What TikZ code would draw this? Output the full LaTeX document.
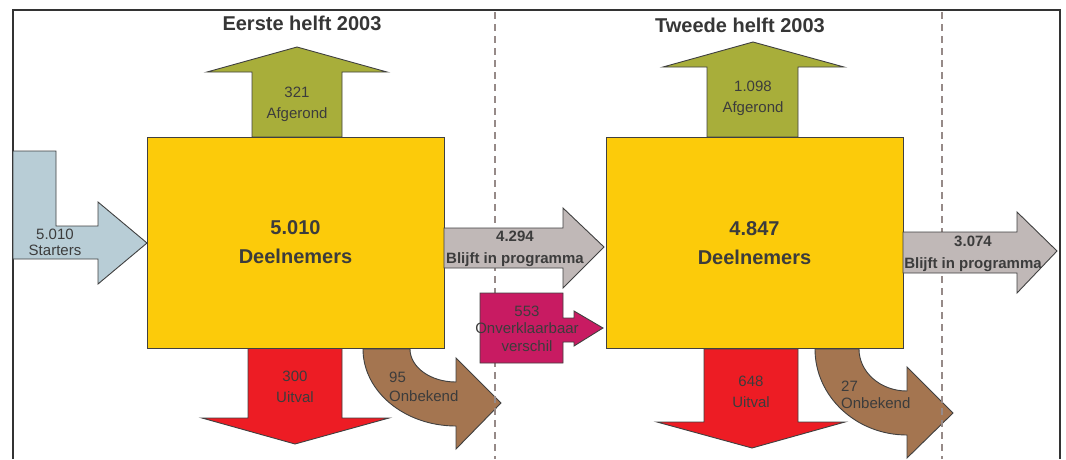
\documentclass[tikz,border=0pt]{standalone}
\usepackage{fontspec}
\setmainfont{Liberation Sans}
\usepackage{tikz}
\usetikzlibrary{positioning}

\definecolor{deelgeel}{RGB}{252,203,10}
\definecolor{olijf}{RGB}{168,174,58}
\definecolor{lichtblauw}{RGB}{184,205,214}
\definecolor{grijs}{RGB}{192,184,183}
\definecolor{paars}{RGB}{200,27,98}
\definecolor{rood}{RGB}{237,28,36}
\definecolor{bruin}{RGB}{164,117,80}
\definecolor{streep}{RGB}{150,138,136}
\definecolor{rand}{RGB}{64,64,64}
\definecolor{tekst}{RGB}{60,60,60}

\tikzset{
  deel/.style={draw=rand, line width=0.9pt, fill=deelgeel, minimum width=297pt, minimum height=211pt, inner sep=0pt, align=center, text=tekst, font=\fontsize{20}{29}\bfseries\selectfont},
  blok/.style={draw=rand, line width=0.9pt, line join=miter},
  lbl/.style={align=center, text=tekst, inner sep=0pt, font=\fontsize{15}{21}\selectfont},
  vetlbl/.style={lbl, font=\fontsize{15}{22}\bfseries\selectfont},
  titel/.style={inner sep=0pt, text=tekst!90!black, font=\fontsize{20}{24}\bfseries\selectfont},
  scheiding/.style={draw=streep, line width=2.2pt, dash pattern=on 7pt off 5pt},
}

\begin{document}
\begin{tikzpicture}[x=1pt, y=-1pt]
\useasboundingbox (0,0) rectangle (1066,459);
% kader
\draw[rand!80!black, line width=2pt] (13,459) -- (13,10) -- (1060,10) -- (1060,459);
\node[titel] (t1) at (302,23) {Eerste helft 2003};
\node[titel] (t2) at (740,25) {Tweede helft 2003};

% eerste helft
\filldraw[blok, fill=lichtblauw] (13,151) -- (56,151) -- (56,226) -- (98,226) -- (98,202) -- (147,243) -- (98,284) -- (98,259) -- (13,259) -- cycle;
\node[lbl, font=\fontsize{15}{16}\selectfont] (s1) at (55,242) {5.010\\Starters};
\filldraw[blok, fill=olijf] (252,137) -- (252,72) -- (207,72) -- (297,47) -- (387,72) -- (342,72) -- (342,137) -- cycle;
\node[lbl] (a1) at (297,104) {321\\Afgerond};
\filldraw[blok, fill=rood] (248,348) -- (248,418) -- (202,418) -- (295,444) -- (389,418) -- (342,418) -- (342,348) -- cycle;
\node[lbl] (u1) at (295,387) {300\\Uitval};
\filldraw[blok, fill=bruin] (363,349) arc[start angle=180, end angle=90, x radius=93, y radius=77] -- (456,449) -- (501,403) -- (456,358) -- (456,382) arc[start angle=90, end angle=180, x radius=46, y radius=33] -- cycle;
\node[lbl, anchor=west, align=left, font=\fontsize{15}{19}\selectfont] (o1) at (389,387) {95\\Onbekend};
\node[deel] (D1) at (295.5,242.5) {5.010\\Deelnemers};

% tweede helft
\filldraw[blok, fill=olijf] (707,137) -- (707,67) -- (663,67) -- (753,42) -- (844,67) -- (798,67) -- (798,137) -- cycle;
\node[lbl] (a2) at (753,98) {1.098\\Afgerond};
\filldraw[blok, fill=rood] (704,349) -- (704,422) -- (657,422) -- (752,448) -- (845,422) -- (798,422) -- (798,349) -- cycle;
\node[lbl] (u2) at (751,392) {648\\Uitval};
\filldraw[blok, fill=bruin] (815,349) arc[start angle=180, end angle=90, x radius=92, y radius=86] -- (907,458) -- (953,413) -- (907,367) -- (907,391) arc[start angle=90, end angle=180, x radius=48, y radius=42] -- cycle;
\node[lbl, anchor=west, align=left, font=\fontsize{15}{17}\selectfont] (o2) at (841,395) {27\\Onbekend};
\node[deel] (D2) at (754.5,243) {4.847\\Deelnemers};

% scheidingslijnen
\draw[scheiding] (495,12) -- (495,459);
\draw[scheiding] (942,12) -- (942,459);

% doorstroom
\filldraw[blok, fill=grijs] (444,228) -- (563,228) -- (563,208) -- (604,247) -- (563,288) -- (563,268) -- (444,268) -- cycle;
\node[vetlbl] (b1) at (515,249) {4.294\\Blijft in programma};
\filldraw[blok, fill=paars] (480,293) -- (563,293) -- (563,318) -- (574,318) -- (574,311) -- (603,328) -- (574,346) -- (574,342) -- (563,342) -- (563,363) -- (480,363) -- cycle;
\node[lbl, font=\fontsize{15}{17.5}\selectfont] (v1) at (527,328.5) {553\\Onverklaarbaar\\verschil};
\filldraw[blok, fill=grijs] (903,232) -- (1017,232) -- (1017,212) -- (1057,251) -- (1017,293) -- (1017,273) -- (903,273) -- cycle;
\node[vetlbl] (b2) at (973,254) {3.074\\Blijft in programma};
\end{tikzpicture}
\end{document}
